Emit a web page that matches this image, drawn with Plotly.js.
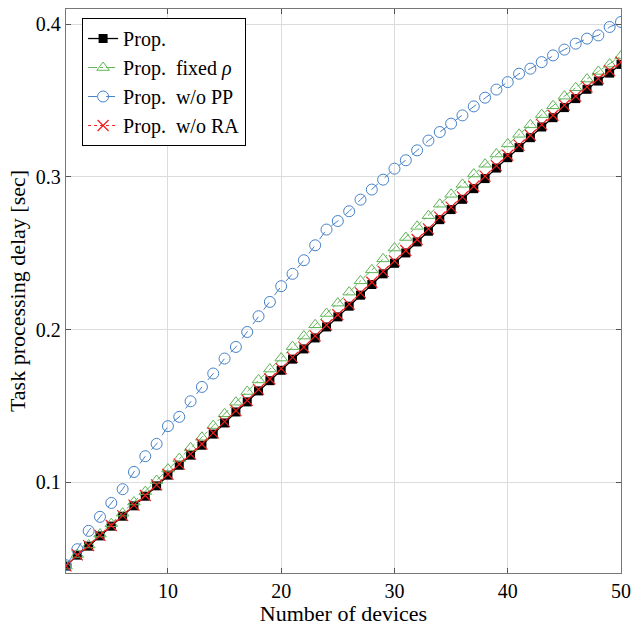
<!DOCTYPE html>
<html>
<head>
<meta charset="utf-8">
<script src="https://cdn.plot.ly/plotly-3.0.1.min.js"></script>
<style>html,body{margin:0;padding:0;background:#fff;}#chart{width:632px;height:626px;}</style>
</head>
<body>
<div id="chart"></div>
<script>
var devices = [];
for (var i = 1; i <= 50; i++) devices.push(i);

var prop = [0.0450,0.0522,0.0581,0.0648,0.0712,0.0777,0.0845,0.0908,0.0976,0.1046,
0.1111,0.1177,0.1242,0.1315,0.1388,0.1460,0.1526,0.1598,0.1665,0.1733,
0.1806,0.1873,0.1945,0.2017,0.2083,0.2153,0.2225,0.2295,0.2365,0.2434,
0.2502,0.2574,0.2644,0.2720,0.2786,0.2853,0.2923,0.2989,0.3058,0.3126,
0.3192,0.3257,0.3327,0.3388,0.3454,0.3513,0.3574,0.3628,0.3680,0.3737];

var propFixedRho = [0.0450,0.0526,0.0589,0.0660,0.0728,0.0797,0.0870,0.0938,0.1011,0.1086,
0.1155,0.1225,0.1294,0.1371,0.1448,0.1524,0.1594,0.1670,0.1741,0.1813,
0.1888,0.1957,0.2031,0.2105,0.2173,0.2245,0.2319,0.2391,0.2463,0.2534,
0.2603,0.2676,0.2746,0.2821,0.2886,0.2951,0.3019,0.3083,0.3150,0.3216,
0.3279,0.3341,0.3408,0.3466,0.3529,0.3584,0.3641,0.3691,0.3739,0.3792];

var propNoPP = [0.0456,0.0561,0.0681,0.0773,0.0864,0.0954,0.1067,0.1170,0.1251,0.1367,
0.1428,0.1530,0.1624,0.1712,0.1810,0.1886,0.1984,0.2087,0.2181,0.2284,
0.2365,0.2454,0.2552,0.2655,0.2711,0.2775,0.2851,0.2917,0.2982,0.3054,
0.3109,0.3174,0.3238,0.3294,0.3349,0.3403,0.3462,0.3519,0.3572,0.3621,
0.3676,0.3709,0.3752,0.3796,0.3834,0.3873,0.3906,0.3927,0.3982,0.4015];

var propNoRA = [0.0452,0.0524,0.0584,0.0651,0.0716,0.0781,0.0850,0.0913,0.0982,0.1052,
0.1118,0.1184,0.1250,0.1323,0.1397,0.1469,0.1536,0.1608,0.1676,0.1744,
0.1818,0.1885,0.1958,0.2030,0.2097,0.2167,0.2240,0.2310,0.2381,0.2450,
0.2518,0.2590,0.2660,0.2736,0.2802,0.2869,0.2939,0.3005,0.3074,0.3142,
0.3208,0.3273,0.3343,0.3404,0.3470,0.3529,0.3590,0.3644,0.3696,0.3752];

var xTicks = [10,20,30,40,50];
var yTicks = [0.1,0.2,0.3,0.4];
var yTickLabels = ['0.1','0.2','0.3','0.4'];

var green = 'rgb(95,180,85)';
var blue = 'rgb(70,130,200)';
var red = 'rgb(240,30,30)';

var traces = [
  {x: devices, y: prop, name: 'Prop.', mode: 'lines+markers',
   line: {color: 'black', width: 1.3},
   marker: {symbol: 'square', size: 9, color: 'black'}},
  {x: devices, y: propFixedRho, name: 'Prop.  fixed <i>ρ</i>', mode: 'lines+markers',
   line: {color: green, width: 1, dash: 'dashdot'},
   marker: {symbol: 'triangle-up-open', size: 11, color: green, line: {width: 1}}},
  {x: devices, y: propNoPP, name: 'Prop.  w/o PP', mode: 'lines+markers',
   line: {color: blue, width: 1, dash: 'dash'},
   marker: {symbol: 'circle-open', size: 11, color: blue, line: {width: 1}}},
  {x: devices, y: propNoRA, name: 'Prop.  w/o RA', mode: 'lines+markers',
   line: {color: red, width: 1, dash: 'dot'},
   marker: {symbol: 'x-thin-open', size: 11, color: red, line: {width: 1.2, color: red}}}
];

var fontFam = 'Liberation Serif, DejaVu Serif, serif';

var layout = {
  width: 632, height: 626,
  margin: {l: 66, r: 11, t: 9, b: 53},
  paper_bgcolor: 'white', plot_bgcolor: 'white',
  font: {family: fontFam, size: 20, color: 'black'},
  showlegend: true,
  legend: {x: 0.029, y: 0.984, xanchor: 'left', yanchor: 'top',
    bordercolor: 'black', borderwidth: 1, bgcolor: 'white',
    font: {family: fontFam, size: 20, color: 'black'}, itemwidth: 30, tracegroupgap: 0},
  xaxis: {
    range: [1, 50], tickvals: xTicks, ticktext: xTicks.map(String),
    ticks: 'inside', ticklen: 5, tickcolor: '#555', mirror: 'allticks',
    showline: true, linecolor: '#777', linewidth: 1.3,
    showgrid: true, gridcolor: '#dcdcdc', gridwidth: 1, zeroline: false,
    tickfont: {family: fontFam, size: 20},
    title: {text: 'Number of devices', font: {family: fontFam, size: 22}, standoff: 6}
  },
  yaxis: {
    range: [0.0405, 0.41], tickvals: yTicks, ticktext: yTickLabels,
    ticks: 'inside', ticklen: 5, tickcolor: '#555', mirror: 'allticks',
    showline: true, linecolor: '#777', linewidth: 1.3,
    showgrid: true, gridcolor: '#dcdcdc', gridwidth: 1, zeroline: false,
    tickfont: {family: fontFam, size: 20},
    title: {text: 'Task processing delay [sec]', font: {family: fontFam, size: 22}, standoff: 4}
  }
};

Plotly.newPlot('chart', traces, layout, {displayModeBar: false, staticPlot: true});
</script>
</body>
</html>
